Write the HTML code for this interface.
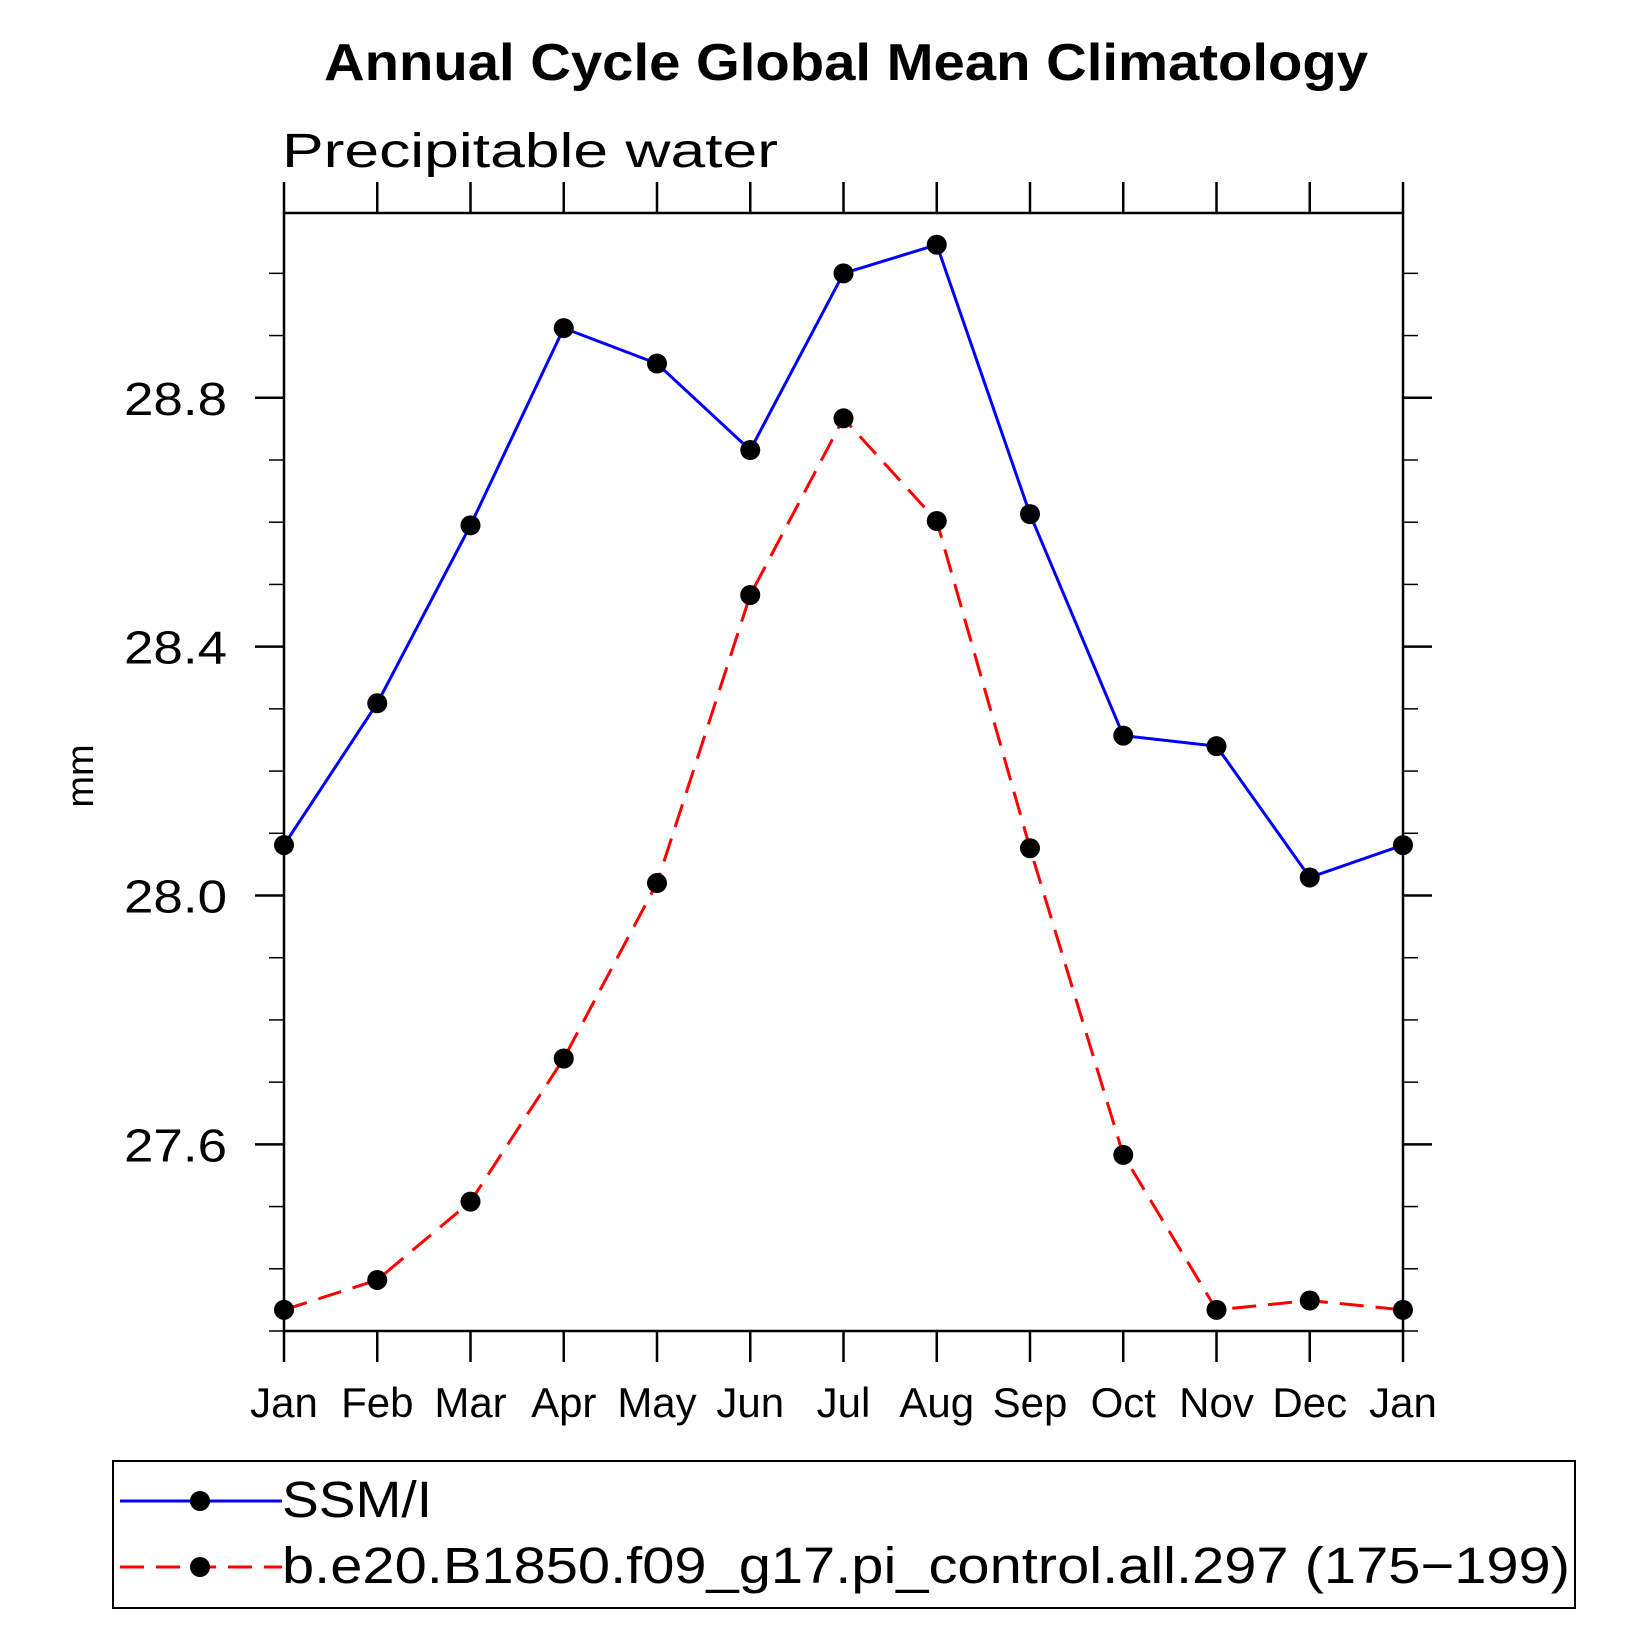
<!DOCTYPE html>
<html><head><meta charset="utf-8"><style>
html,body{margin:0;padding:0;background:#fff}
svg{display:block}
text{font-family:"Liberation Sans",sans-serif}
</style></head><body>
<svg id="chart" width="1647" height="1647" viewBox="0 0 1647 1647" xmlns="http://www.w3.org/2000/svg">
<text x="846" y="80" text-anchor="middle" font-size="52" font-weight="bold" textLength="1044" lengthAdjust="spacingAndGlyphs">Annual Cycle Global Mean Climatology</text>
<text x="282" y="167" font-size="48" font-weight="300" textLength="496" lengthAdjust="spacingAndGlyphs">Precipitable water</text>
<text transform="translate(93,776) rotate(-90)" text-anchor="middle" font-size="38">mm</text>
<g id="axes"></g>
<g id="series"></g>
<rect x="113" y="1461" width="1462" height="147" fill="none" stroke="#000" stroke-width="2"/>
<line x1="120" y1="1501" x2="282" y2="1501" stroke="#0000ff" stroke-width="3"/>
<circle cx="200" cy="1501" r="10" fill="#000"/>
<text x="282" y="1517" font-size="51" font-weight="300" textLength="150" lengthAdjust="spacingAndGlyphs">SSM/I</text>
<line x1="120" y1="1567" x2="282" y2="1567" stroke="#ff0000" stroke-width="3" stroke-dasharray="24,12"/>
<circle cx="200" cy="1567" r="10" fill="#000"/>
<text x="282" y="1583" font-size="51" font-weight="300" textLength="1288" lengthAdjust="spacingAndGlyphs">b.e20.B1850.f09_g17.pi_control.all.297 (175−199)</text>
</svg>
<script>
const months = ["Jan","Feb","Mar","Apr","May","Jun","Jul","Aug","Sep","Oct","Nov","Dec","Jan"];
const ssmi = [28.081,28.309,28.595,28.912,28.855,28.716,29.0,29.046,28.613,28.257,28.24,28.029,28.081];
const model = [27.334,27.382,27.508,27.738,28.02,28.483,28.767,28.602,28.076,27.583,27.334,27.349,27.334];
const yTicks = [27.6,28.0,28.4,28.8];
const yTickLabels = ["27.6","28.0","28.4","28.8"];
const yMin = 27.3, yMax = 29.097;

const L=284,R=1403,T=213,B=1331;
const NS="http://www.w3.org/2000/svg";
function xs(i){return L+(R-L)*i/(months.length-1);}
function ys(v){return B-(v-yMin)/(yMax-yMin)*(B-T);}
function mk(tag,attrs,parent){const e=document.createElementNS(NS,tag);for(const k in attrs)e.setAttribute(k,attrs[k]);parent.appendChild(e);return e;}
const axes=document.getElementById('axes');
const ser=document.getElementById('series');
const frame=mk('rect',{x:L,y:T,width:R-L,height:B-T,fill:'none',stroke:'#000','stroke-width':2.5},axes);


months.forEach((m,i)=>{
  const x=xs(i);
  const t1=mk('line',{x1:x,y1:B,x2:x,y2:B+31,stroke:'#000','stroke-width':2.5},axes);
  
  
  const t2=mk('line',{x1:x,y1:T,x2:x,y2:T-31,stroke:'#000','stroke-width':2.5},axes);
  
  
  const lb=mk('text',{x:x,y:1417,'text-anchor':'middle','font-size':42,'font-weight':300},axes);
  lb.textContent=m;
  
  
});
for(let v=Math.ceil(yMin*10)/10; v<=yMax+1e-9; v+=0.1){
  const y=ys(v);
  const tl=mk('line',{x1:L,y1:y,x2:L-15,y2:y,stroke:'#000','stroke-width':1.5},axes);
  
  
  const tr=mk('line',{x1:R,y1:y,x2:R+15,y2:y,stroke:'#000','stroke-width':1.5},axes);
  
  
}
yTicks.forEach((v,i)=>{
  const y=ys(v);
  const tl=mk('line',{x1:L,y1:y,x2:L-29,y2:y,stroke:'#000','stroke-width':2.5},axes);
  
  
  const tr=mk('line',{x1:R,y1:y,x2:R+29,y2:y,stroke:'#000','stroke-width':2.5},axes);
  
  
  const lb=mk('text',{x:227,y:y+17,'text-anchor':'end','font-size':46,'font-weight':300,textLength:103,lengthAdjust:'spacingAndGlyphs'},axes);
  lb.textContent=yTickLabels[i];
  
  
});
function drawSeries(vals,color,dash,name){
  const pts=vals.map((v,i)=>xs(i)+','+ys(v)).join(' ');
  const pl=mk('polyline',{points:pts,fill:'none',stroke:color,'stroke-width':3,'stroke-dasharray':dash},ser);
  
  
  vals.forEach((v,i)=>{
    const c=mk('circle',{cx:xs(i),cy:ys(v),r:10,fill:'#000'},ser);
    
    
  });
}
drawSeries(model,'#ff0000','24,12','model');
drawSeries(ssmi,'#0000ff','none','ssmi');
</script>
</body></html>
